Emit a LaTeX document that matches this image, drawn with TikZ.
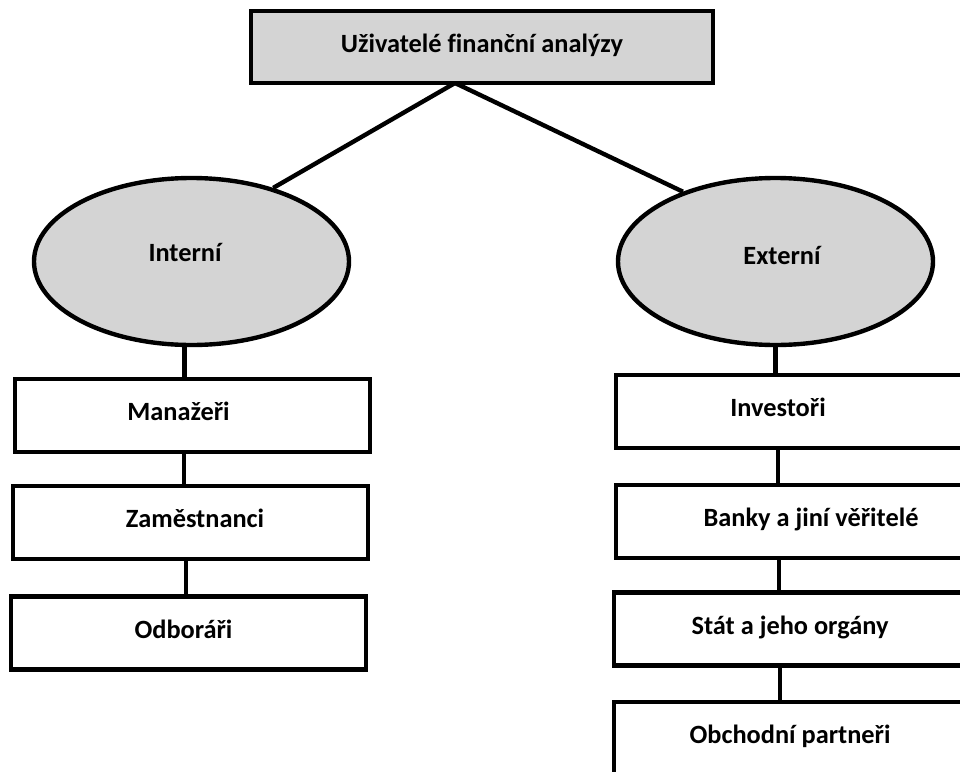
\documentclass[tikz,border=0pt]{standalone}
\usepackage{fontspec}
\setmainfont{Carlito}[Ligatures=NoCommon]
\usepackage{tikz}
\usetikzlibrary{shapes.geometric}
\definecolor{fillgray}{RGB}{212,212,212}
\newlength\px
\setlength\px{0.02cm}

\begin{document}
\begin{tikzpicture}[x=0.02cm, y=-0.02cm,
        every node/.style={font=\bfseries\fontsize{15}{18}\selectfont, text height=0.8em, text depth=0.2em},
        box/.style={draw, line width=2.5pt, rectangle, inner sep=0pt, minimum width=355\px, minimum height=73\px},
        oval/.style={draw, line width=2.5pt, ellipse, fill=fillgray, inner sep=0pt, minimum width=315\px, minimum height=167\px},
        link/.style={line width=2.5pt}]
        \useasboundingbox (0,0) rectangle (960,771);
        \clip (0,0) rectangle (960,771);

        \node[box, fill=fillgray, minimum width=462\px, minimum height=72\px] (uziv) at (482,47) {Uživatelé finanční analýzy};
        \coordinate (apex) at (455,83);

        \node[oval] (int) at (191.5,261.5) {};
        \node at (185,256) {Interní};
        \node[oval] (ext) at (775.5,261.5) {};
        \node at (782,259) {Externí};

        % internal users
        \node[box] (man) at (192.5,415.5) {\hspace*{-28\px}Manažeři};
        \node[box] (zam) at (190.5,522.5) {\hspace*{9\px}Zaměstnanci};
        \node[box] (odb) at (188.5,633) {\hspace*{-10\px}Odboráři};

        % external users
        \node[box, minimum width=364\px] (inv) at (798,411.5) {\hspace*{-40\px}Investoři};
        \node[box, minimum width=390\px] (bank) at (811,521.5) {Banky a jiní věřitelé};
        \node[box, minimum width=352\px] (stat) at (790,629) {Stát a jeho orgány};
        \node[box, minimum width=352\px] (obch) at (790,738.5) {Obchodní partneři};

        \draw[link] (apex) -- (int.42);
        \draw[link] (apex) -- (ext.143);

        \draw[link] ([xshift=-7\px]int.south) -- ([xshift=-7\px]int.south |- man.north);
        \draw[link] ([xshift=-8.5\px]man.south) -- ([xshift=-8.5\px]man.south |- zam.north);
        \draw[link] ([xshift=-4.5\px]zam.south) -- ([xshift=-4.5\px]zam.south |- odb.north);
        \draw[link] (ext.south) -- (ext.south |- inv.north);
        \draw[link] ([xshift=-20\px]inv.south) -- ([xshift=-20\px]inv.south |- bank.north);
        \draw[link] ([xshift=-32\px]bank.south) -- ([xshift=-32\px]bank.south |- stat.north);
        \draw[link] ([xshift=-10\px]stat.south) -- ([xshift=-10\px]stat.south |- obch.north);
    \end{tikzpicture}
\end{document}
